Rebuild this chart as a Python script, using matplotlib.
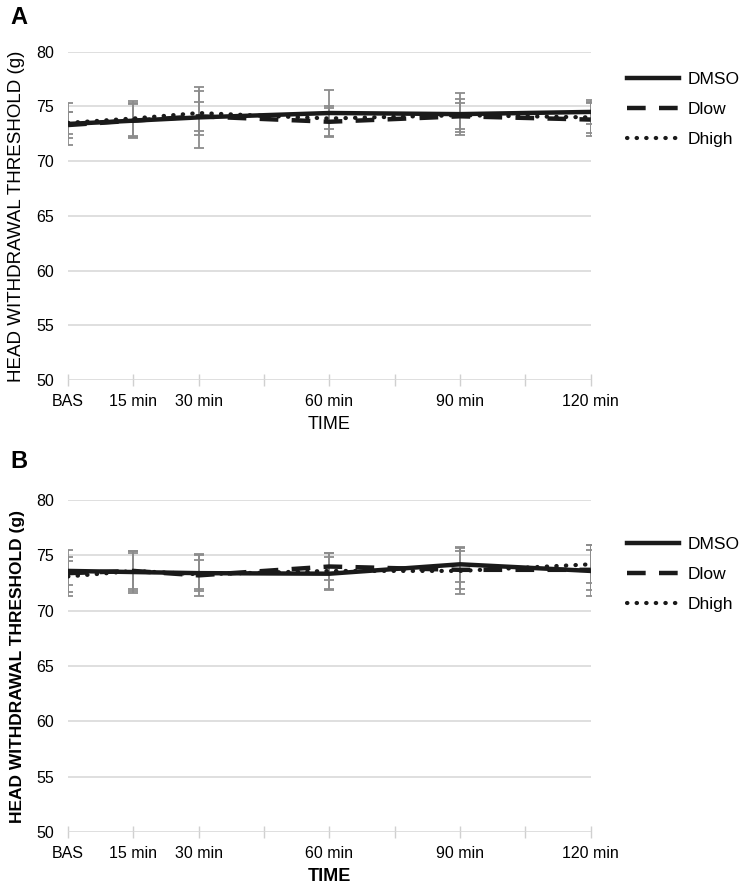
import numpy as np
import matplotlib
matplotlib.use('Agg')
import matplotlib.pyplot as plt

plt.rcParams['font.family'] = ['Liberation Sans', 'DejaVu Sans']

times = [0, 15, 30, 60, 90, 120]
tick_pos = [0, 15, 30, 45, 60, 75, 90, 105, 120]
tick_labels = ['BAS', '15 min', '30 min', '', '60 min', '', '90 min', '', '120 min']
series = ['DMSO', 'Dlow', 'Dhigh']

# panel A
dmso_a = [73.4, 73.7, 74.0, 74.4, 74.3, 74.5]
dlow_a = [73.3, 73.7, 74.1, 73.6, 74.1, 73.8]
dhigh_a = [73.5, 73.9, 74.4, 73.9, 74.2, 74.0]
dmso_a_err = [1.9, 1.6, 2.8, 2.1, 1.9, 1.1]
dlow_a_err = [1.2, 1.5, 1.3, 1.4, 1.2, 1.5]
dhigh_a_err = [1.0, 1.6, 2.0, 1.0, 1.5, 1.4]

# panel B
dmso_b = [73.6, 73.5, 73.4, 73.35, 74.2, 73.6]
dlow_b = [73.4, 73.6, 73.2, 74.0, 73.7, 73.7]
dhigh_b = [73.1, 73.6, 73.3, 73.6, 73.6, 74.2]
dmso_b_err = [1.9, 1.9, 1.6, 1.5, 1.6, 2.3]
dlow_b_err = [1.1, 1.8, 1.9, 1.2, 1.7, 1.8]
dhigh_b_err = [1.8, 1.6, 1.3, 1.6, 2.1, 1.7]

styles = [dict(linestyle='-', linewidth=3.2),
          dict(linestyle=(0, (4.2, 3.0)), linewidth=3.2),
          dict(linestyle=(0, (0.1, 2.2)), linewidth=3.0, dash_capstyle='round')]

fig = plt.figure(figsize=(7.5, 8.92), dpi=100)


def panel(rect, vals, errs, bold, letter, letter_y, leg_y):
    ax = fig.add_axes(rect)
    weight = 'bold' if bold else 'normal'
    for v, e in zip(vals, errs):
        ax.errorbar(times, v, yerr=e, fmt='none', ecolor='#8c8c8c',
                    elinewidth=1.3, capsize=3.8, capthick=1.3, zorder=2)
    handles = []
    for v, st, name in zip(vals, styles, series):
        h, = ax.plot(times, v, color='#1a1a1a', label=name, zorder=3, **st)
        handles.append(h)
    ax.set_xlim(0, 120)
    ax.set_ylim(50, 80)
    ax.set_yticks(range(50, 81, 5))
    ax.set_xticks(tick_pos)
    ax.set_xticklabels(tick_labels, fontsize=11.5)
    ax.tick_params(axis='y', length=0, labelsize=11.5, pad=10)
    ax.tick_params(axis='x', length=8, direction='inout', color='#d0d0d0',
                   width=1, pad=6)
    ax.grid(axis='y', color='#d9d9d9', linewidth=1.2)
    ax.set_axisbelow(True)
    for s in ax.spines.values():
        s.set_visible(False)
    ax.set_xlabel('TIME', fontsize=13, fontweight=weight, labelpad=5)
    ax.set_ylabel('HEAD WITHDRAWAL THRESHOLD (g)', fontsize=12.5 if bold else 13.5,
                  fontweight=weight, labelpad=8)
    ax.legend(handles=handles, loc='upper left', bbox_to_anchor=(1.04, leg_y),
              frameon=False, fontsize=12.5, handlelength=3.0, labelspacing=0.85,
              handletextpad=0.5)
    fig.text(0.014, letter_y, letter, fontsize=17, fontweight='bold', va='center')
    return ax


panel([0.0907, 0.574, 0.697, 0.368], [dmso_a, dlow_a, dhigh_a],
      [dmso_a_err, dlow_a_err, dhigh_a_err], False, 'A', 1 - 18 / 892, 0.985)
panel([0.0907, 0.0673, 0.697, 0.372], [dmso_b, dlow_b, dhigh_b],
      [dmso_b_err, dlow_b_err, dhigh_b_err], True, 'B', 1 - 461 / 892, 0.935)

fig.savefig('out.png', dpi=100)
